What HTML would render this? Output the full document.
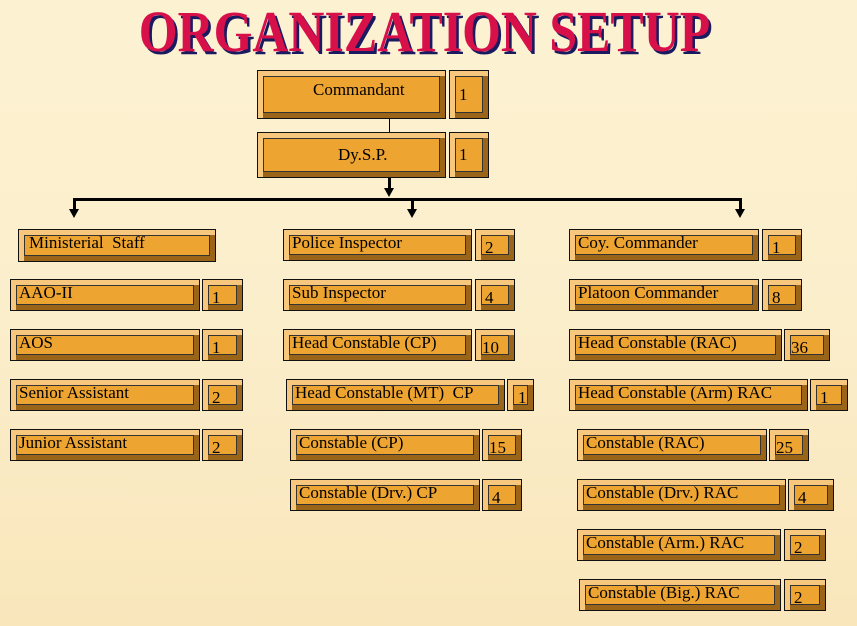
<!DOCTYPE html>
<html><head><meta charset="utf-8"><style>
body{margin:0;width:857px;height:626px;overflow:hidden;position:relative;
background:linear-gradient(180deg,#fcf2d2 0%,#fbeecb 50%,#f9e6bb 100%);font-family:"Liberation Serif",serif;}
.b{position:absolute;border:1px solid #111;background:#f0a535;box-sizing:border-box;
box-shadow:inset 5px 5px 0 #f6c77c,inset -5px -5px 0 #9a6518;}
.b i{position:absolute;left:5px;top:5px;right:5px;bottom:5px;border:1px solid #333;background:#eea431;}
.b span{position:absolute;left:8px;top:3px;font-size:17px;color:#000;white-space:nowrap;}
.b.n span{left:9px;top:8px;}
.t{position:absolute;left:-4px;top:-2px;width:857px;text-align:center;font-family:"Liberation Serif",serif;font-weight:bold;font-size:58px;color:#d8104a;
transform:scaleX(0.86);text-shadow:3px 3px 0 #1a1a60;}
.l{position:absolute;background:#000;}
.a{position:absolute;width:0;height:0;border-left:5px solid transparent;border-right:5px solid transparent;border-top:9px solid #000;}
</style></head><body>
<div class="t">ORGANIZATION SETUP</div>
<div class="l" style="left:389px;top:119px;width:1px;height:13px"></div>
<div class="l" style="left:388px;top:178px;width:3px;height:12px"></div>
<div class="a" style="left:384px;top:188px"></div>
<div class="l" style="left:73px;top:198px;width:669px;height:3px"></div>
<div class="l" style="left:73px;top:198px;width:3px;height:12px"></div>
<div class="l" style="left:411px;top:198px;width:3px;height:12px"></div>
<div class="l" style="left:739px;top:198px;width:3px;height:12px"></div>
<div class="a" style="left:69px;top:209px"></div>
<div class="a" style="left:407px;top:209px"></div>
<div class="a" style="left:735px;top:209px"></div>

<div class="b" style="left:257px;top:70px;width:189px;height:49px"><i></i><span style="left:55px;top:9px">Commandant</span></div>
<div class="b n" style="left:449px;top:70px;width:40px;height:49px"><i></i><span style="top:14px">1</span></div>
<div class="b" style="left:257px;top:132px;width:189px;height:46px"><i></i><span style="left:80px;top:12px">Dy.S.P.</span></div>
<div class="b n" style="left:449px;top:132px;width:40px;height:46px"><i></i><span style="top:12px">1</span></div>

<div class="b" style="left:18px;top:229px;width:198px;height:33px"><i></i><span style="left:10px">Ministerial&nbsp; Staff</span></div>
<div class="b" style="left:10px;top:279px;width:190px;height:32px"><i></i><span>AAO-II</span></div>
<div class="b n" style="left:202px;top:279px;width:41px;height:32px"><i></i><span>1</span></div>
<div class="b" style="left:10px;top:329px;width:190px;height:32px"><i></i><span>AOS</span></div>
<div class="b n" style="left:202px;top:329px;width:41px;height:32px"><i></i><span>1</span></div>
<div class="b" style="left:10px;top:379px;width:190px;height:32px"><i></i><span>Senior Assistant</span></div>
<div class="b n" style="left:202px;top:379px;width:41px;height:32px"><i></i><span>2</span></div>
<div class="b" style="left:10px;top:429px;width:190px;height:32px"><i></i><span>Junior Assistant</span></div>
<div class="b n" style="left:202px;top:429px;width:41px;height:32px"><i></i><span>2</span></div>

<div class="b" style="left:283px;top:229px;width:189px;height:32px"><i></i><span>Police Inspector</span></div>
<div class="b n" style="left:475px;top:229px;width:40px;height:32px"><i></i><span>2</span></div>
<div class="b" style="left:283px;top:279px;width:189px;height:32px"><i></i><span>Sub Inspector</span></div>
<div class="b n" style="left:475px;top:279px;width:40px;height:32px"><i></i><span>4</span></div>
<div class="b" style="left:283px;top:329px;width:189px;height:32px"><i></i><span>Head Constable (CP)</span></div>
<div class="b n" style="left:475px;top:329px;width:40px;height:32px"><i></i><span style="left:6px">10</span></div>
<div class="b" style="left:286px;top:379px;width:219px;height:32px"><i></i><span>Head Constable (MT)&nbsp; CP</span></div>
<div class="b n" style="left:507px;top:379px;width:27px;height:32px"><i></i><span style="left:10px">1</span></div>
<div class="b" style="left:290px;top:429px;width:190px;height:32px"><i></i><span>Constable (CP)</span></div>
<div class="b n" style="left:482px;top:429px;width:40px;height:32px"><i></i><span style="left:6px">15</span></div>
<div class="b" style="left:290px;top:479px;width:190px;height:32px"><i></i><span>Constable (Drv.) CP</span></div>
<div class="b n" style="left:482px;top:479px;width:40px;height:32px"><i></i><span>4</span></div>

<div class="b" style="left:569px;top:229px;width:190px;height:32px"><i></i><span>Coy. Commander</span></div>
<div class="b n" style="left:762px;top:229px;width:40px;height:32px"><i></i><span>1</span></div>
<div class="b" style="left:569px;top:279px;width:190px;height:32px"><i></i><span>Platoon Commander</span></div>
<div class="b n" style="left:762px;top:279px;width:40px;height:32px"><i></i><span>8</span></div>
<div class="b" style="left:569px;top:329px;width:213px;height:32px"><i></i><span>Head Constable (RAC)</span></div>
<div class="b n" style="left:784px;top:329px;width:46px;height:32px"><i></i><span style="left:6px">36</span></div>
<div class="b" style="left:569px;top:379px;width:239px;height:32px"><i></i><span>Head Constable (Arm) RAC</span></div>
<div class="b n" style="left:810px;top:379px;width:38px;height:32px"><i></i><span>1</span></div>
<div class="b" style="left:577px;top:429px;width:190px;height:32px"><i></i><span>Constable (RAC)</span></div>
<div class="b n" style="left:769px;top:429px;width:40px;height:32px"><i></i><span style="left:6px">25</span></div>
<div class="b" style="left:577px;top:479px;width:209px;height:32px"><i></i><span>Constable (Drv.) RAC</span></div>
<div class="b n" style="left:788px;top:479px;width:46px;height:32px"><i></i><span>4</span></div>
<div class="b" style="left:577px;top:529px;width:204px;height:32px"><i></i><span>Constable (Arm.) RAC</span></div>
<div class="b n" style="left:784px;top:529px;width:42px;height:32px"><i></i><span>2</span></div>
<div class="b" style="left:579px;top:579px;width:202px;height:32px"><i></i><span>Constable (Big.) RAC</span></div>
<div class="b n" style="left:784px;top:579px;width:42px;height:32px"><i></i><span>2</span></div>
</body></html>
